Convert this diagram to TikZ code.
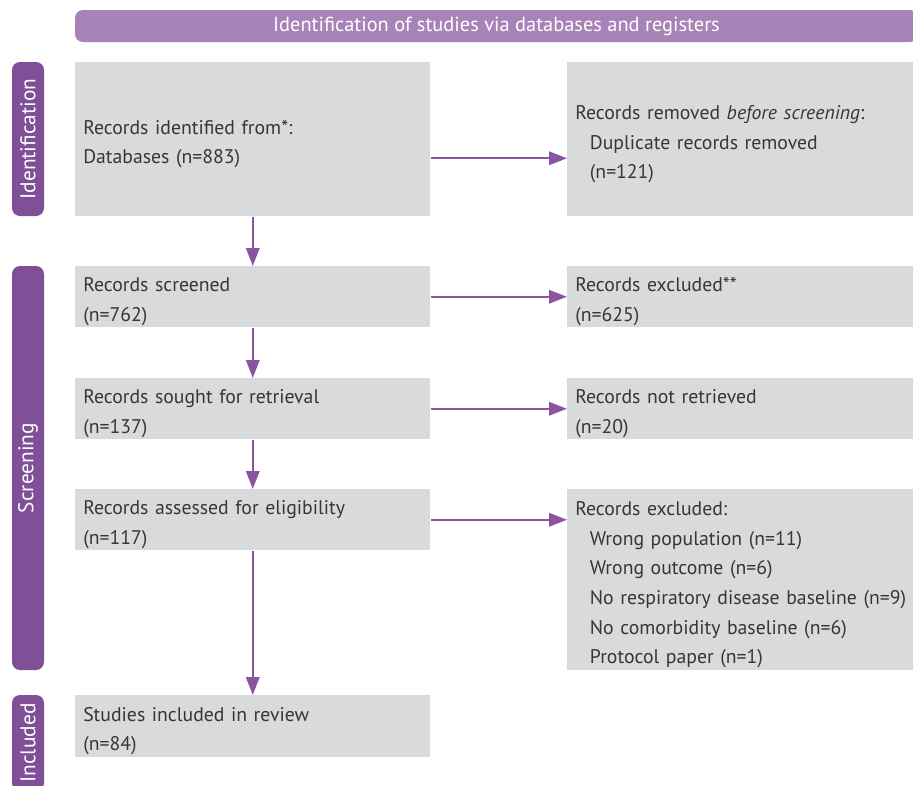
\documentclass[tikz,border=0pt]{standalone}
\usepackage{fontspec}
\setmainfont{PT Sans}
\usetikzlibrary{arrows.meta}
\definecolor{phaseColor}{HTML}{7F4F97}
\definecolor{headColor}{HTML}{A883B8}
\definecolor{boxColor}{HTML}{D9DADC}
\definecolor{arrowColor}{HTML}{8A55A0}
\definecolor{textColor}{HTML}{363636}

\begin{document}
\begin{tikzpicture}[x=0.75pt, y=-0.75pt,
    box/.style={fill=boxColor, anchor=north west, align=left, text=textColor,
        inner xsep=6pt, inner ysep=0pt, font=\fontsize{14.8}{22.3}\selectfont,
        execute at begin node={\rule{0pt}{18pt}}},
    leftbox/.style={box, text width=254.25pt, minimum width=266.25pt},
    rightbox/.style={box, text width=280pt},
    phase/.style={fill=phaseColor, text=white, rotate=90, rounded corners=6pt,
        minimum height=24pt, inner sep=0pt, font=\fontsize{16}{18}\selectfont},
    header/.style={fill=headColor, text=white, rounded corners=6pt, minimum width=632.25pt,
        minimum height=24pt, inner sep=0pt, font=\fontsize{15.3}{17}\selectfont},
    flow/.style={arrowColor, line width=1.7pt, -{Triangle[length=13.5pt, width=10pt]}}]
    \clip (0,0) rectangle (913,785);

    % banner and phases
    \node[header] (head) at (496.5,26) {Identification of studies via databases and registers};
    \node[phase, minimum width=115.5pt] (phIdent) at (28,139) {Identification};
    \node[phase, minimum width=303pt] (phScreen) at (28,468) {Screening};
    \node[phase, minimum width=72pt] (phIncl) at (28,743) {Included};

    % left column
    \node[leftbox, minimum height=115.5pt] (identified) at (75,62) {Records identified from*:\\Databases (n=883)};
    \node[leftbox, minimum height=45.75pt] (screened) at (75,266) {Records screened\\(n=762)};
    \node[leftbox, minimum height=45.75pt] (sought) at (75,378) {Records sought for retrieval\\(n=137)};
    \node[leftbox, minimum height=45.75pt] (assessed) at (75,489) {Records assessed for eligibility\\(n=117)};
    \node[leftbox, minimum height=46.5pt] (included) at (75,695) {Studies included in review\\(n=84)};

    % right column
    \node[rightbox, minimum height=115.5pt] (removed) at (567,62)
        {Records removed \textit{before screening}:\\\hspace*{11pt}Duplicate records removed\\\hspace*{11pt}(n=121)};
    \node[rightbox, minimum height=45.75pt] (excluded) at (567,266) {Records excluded**\\(n=625)};
    \node[rightbox, minimum height=45.75pt] (notRetrieved) at (567,378) {Records not retrieved\\(n=20)};
    \node[rightbox, minimum height=135.75pt] (reasons) at (567,489)
        {Records excluded:\\\hspace*{11pt}Wrong population (n=11)\\\hspace*{11pt}Wrong outcome (n=6)\\
         \hspace*{11pt}No respiratory disease baseline (n=9)\\\hspace*{11pt}No comorbidity baseline (n=6)\\
         \hspace*{11pt}Protocol paper (n=1)};

    % arrows
    \draw[flow] (identified.south) -- (screened.north);
    \draw[flow] (screened.south) -- (sought.north);
    \draw[flow] (sought.south) -- (assessed.north);
    \draw[flow] (assessed.south) -- (included.north);
    \draw[flow] ([yshift=-14.25pt]identified.east) -- ([yshift=-14.25pt]removed.west);
    \draw[flow] (screened.east) -- (excluded.west);
    \draw[flow] (sought.east) -- (notRetrieved.west);
    \draw[flow] (assessed.east) -- (reasons.west |- assessed.east);
\end{tikzpicture}
\end{document}
